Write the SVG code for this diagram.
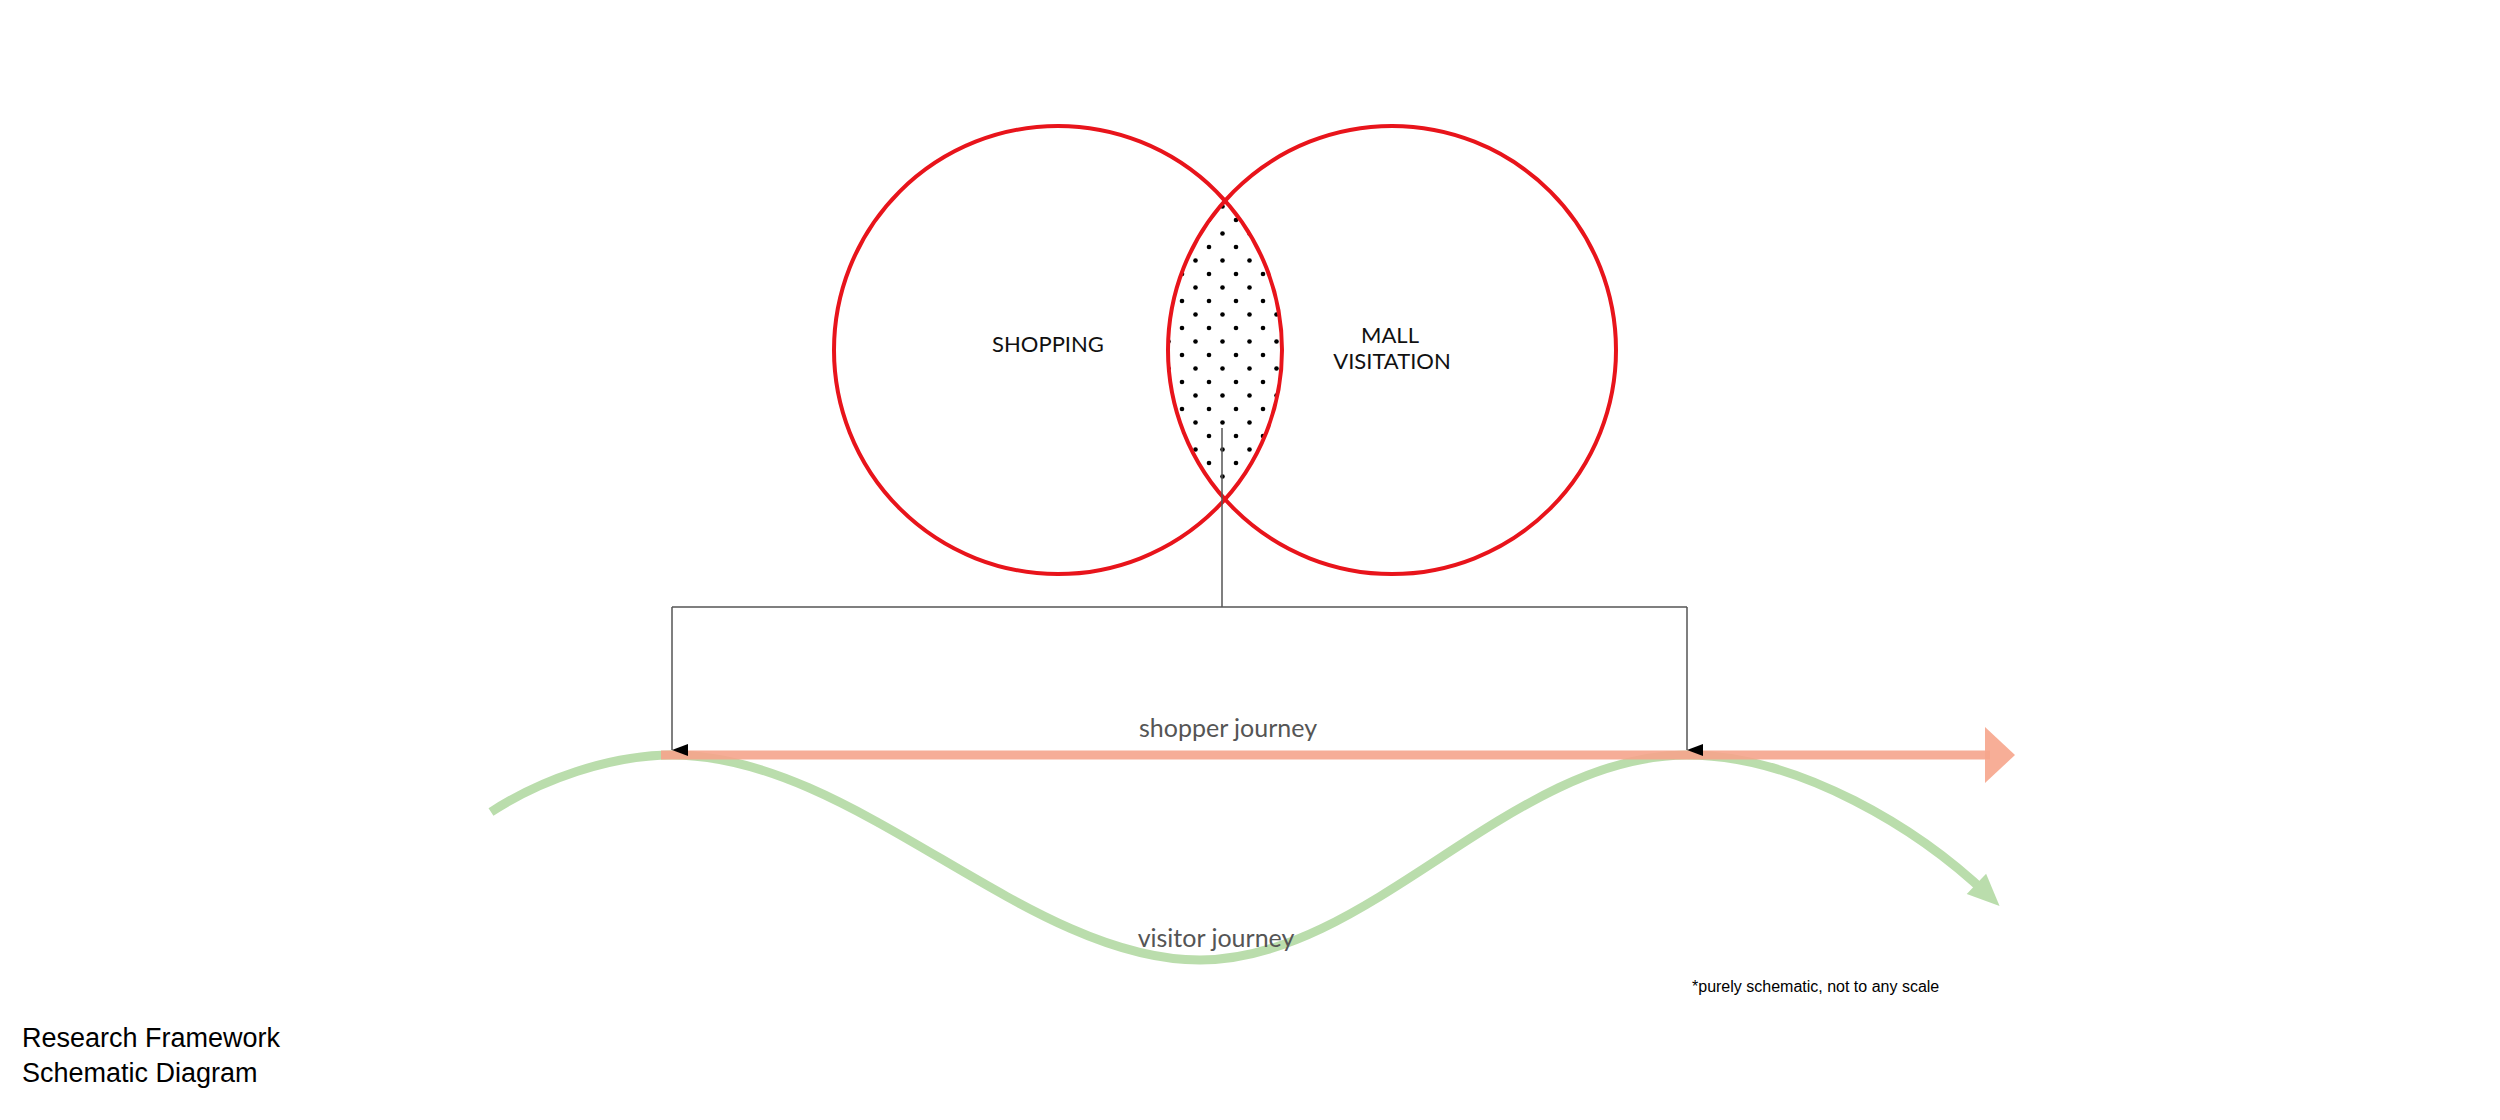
<svg xmlns="http://www.w3.org/2000/svg" width="2500" height="1120" viewBox="0 0 2500 1120">
<style>
.venn{fill:none;stroke:#e8141b;stroke-width:4}
.lbl{font-family:Lato,"Open Sans",sans-serif;font-size:22px;fill:#111;text-anchor:middle}
.jl{font-family:Lato,"Open Sans",sans-serif;font-size:25px;fill:#555;text-anchor:middle}
.conn{fill:none;stroke:#555;stroke-width:1.5}
.note{font-family:"Liberation Sans",Arial,sans-serif;fill:#000}
</style>
<defs>
<pattern id="dots" width="27" height="27" patternUnits="userSpaceOnUse" x="1178" y="0">
<circle cx="4" cy="4" r="2.3" fill="#000"/>
<circle cx="17.5" cy="17.5" r="2.3" fill="#000"/>
</pattern>
<clipPath id="lens"><circle cx="1058" cy="350" r="224"/></clipPath>
<marker id="ah" markerWidth="12" markerHeight="16" refX="6" refY="16" orient="auto" markerUnits="userSpaceOnUse" viewBox="0 0 12 16">
<path d="M0,0 L12,0 L6,16 Z" fill="#000"/>
</marker>
<marker id="gh" markerWidth="40" markerHeight="40" refX="20" refY="20" orient="auto" markerUnits="userSpaceOnUse" viewBox="0 0 40 40">
<path d="M4,6 L36,20 L4,34 Z" fill="#b7dca8"/>
</marker>
</defs>
<g id="overlap">
<circle cx="1392" cy="350" r="224" fill="url(#dots)" clip-path="url(#lens)"/>
</g>
<g id="shopping">
<circle class="venn" cx="1058" cy="350" r="224"/>
<text class="lbl" x="1048" y="352">SHOPPING</text>
</g>
<g id="mall-visitation">
<circle class="venn" cx="1392" cy="350" r="224"/>
<text class="lbl" x="1390" y="343">MALL</text>
<text class="lbl" x="1392" y="369">VISITATION</text>
</g>
<g id="visitor-journey">
<path d="M491,812 C540,780 610,755 672,755 C855,755 1025,960 1200,960 C1370,960 1510,755 1687,755 C1800,755 1920,830 1988,895" fill="none" stroke="#b7dca8" stroke-width="9" opacity="0.95" marker-end="url(#gh)"/>
<text class="jl" x="1216" y="947">visitor journey</text>
</g>
<g id="shopper-journey">
<line x1="661" y1="755" x2="1990" y2="755" stroke="#f6a58c" stroke-width="9" opacity="0.9"/>
<path d="M1985,727 L2015,755 L1985,783 Z" fill="#f6a58c" opacity="0.9"/>
<text class="jl" x="1228" y="737">shopper journey</text>
</g>
<g id="connectors">
<path class="conn" d="M1222,428 V607 M672,607 H1687"/>
<line class="conn" x1="672" y1="607" x2="672" y2="750" marker-end="url(#ah)"/>
<line class="conn" x1="1687" y1="607" x2="1687" y2="750" marker-end="url(#ah)"/>
</g>
<text class="note" x="1692" y="992" font-size="16">*purely schematic, not to any scale</text>
<text class="note" x="22" y="1047" font-size="27">Research Framework</text>
<text class="note" x="22" y="1082" font-size="27">Schematic Diagram</text>
</svg>
